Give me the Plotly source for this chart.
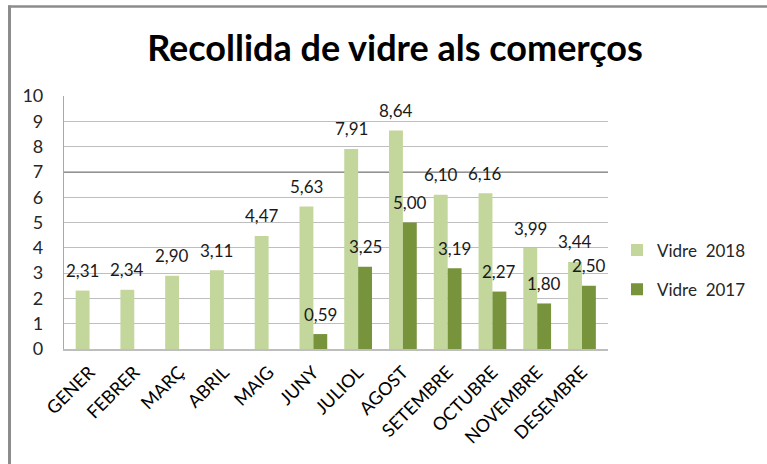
import plotly.graph_objects as go

months = ["GENER", "FEBRER", "MARÇ", "ABRIL", "MAIG", "JUNY", "JULIOL",
          "AGOST", "SETEMBRE", "OCTUBRE", "NOVEMBRE", "DESEMBRE"]
vidre_2018 = [2.31, 2.34, 2.90, 3.11, 4.47, 5.63, 7.91, 8.64, 6.10, 6.16, 3.99, 3.44]
vidre_2017 = [None, None, None, None, None, 0.59, 3.25, 5.00, 3.19, 2.27, 1.80, 2.50]
y_ticks = list(range(0, 11))


def fmt(v):
    return f"{v:.2f}".replace(".", ",")


W, H = 767, 464
# plot area in screen pixels
L, R, T, B = 64, 608, 96, 349
pw, ph = R - L, B - T
BARGAP = 0.38
bar_half = pw / len(months) * (1 - BARGAP) / 4  # half of one bar width


def px(x):
    return (x - L) / pw


def py(y):
    return (B - y) / ph


FONT = "Lato"
label_font = dict(family=FONT, size=17, color="#1A1A1A")

fig = go.Figure()
fig.add_trace(go.Bar(
    x=months, y=vidre_2018, name="Vidre  2018",
    marker=dict(color="#C3D69B", line=dict(width=0)),
    legendgroup="a",
))
fig.add_trace(go.Bar(
    x=months, y=vidre_2017, name="Vidre  2017",
    marker=dict(color="#77933C", line=dict(width=0)),
    legendgroup="b",
))

# data labels
for series, shift in ((vidre_2018, -bar_half), (vidre_2017, bar_half)):
    for m, v in zip(months, series):
        if v is None:
            continue
        fig.add_annotation(x=m, y=v, text=fmt(v), showarrow=False,
                           xshift=shift, yshift=20, yanchor="middle",
                           font=label_font)

fig.update_layout(
    width=W, height=H,
    margin=dict(l=L, r=W - R, t=T, b=H - B, pad=0, autoexpand=False),
    paper_bgcolor="white", plot_bgcolor="white",
    barmode="group", bargap=BARGAP, bargroupgap=0,
    title=dict(text="<b>Recollida de vidre als comerços</b>",
               x=395 / W, xanchor="center", y=1 - 48 / H, yanchor="middle",
               font=dict(family=FONT, size=36, color="#000000")),
    legend=dict(x=px(617), y=py(270), xanchor="left", yanchor="middle",
                font=dict(family=FONT, size=17, color="#262626"),
                tracegroupgap=14, bgcolor="rgba(0,0,0,0)"),
    showlegend=True,
)
fig.update_yaxes(range=[0, 10], tickvals=y_ticks, ticktext=[str(v) for v in y_ticks],
                 showgrid=True, gridcolor="#BEBEBE", gridwidth=1.2,
                 showline=True, linecolor="#A8A8A8", linewidth=1.2,
                 zeroline=False, ticks="", ticklabelstandoff=16, automargin=False,
                 tickfont=dict(family=FONT, size=18, color="#262626"))
fig.update_xaxes(tickangle=-45, showline=True, linecolor="#BEBEBE", linewidth=1.5,
                 ticks="", automargin=False, ticklabelstandoff=4,
                 tickfont=dict(family=FONT, size=18, color="#000000"))

# darker gridline at 7
fig.add_shape(type="line", xref="paper", yref="y", x0=0, x1=1, y0=7, y1=7,
              line=dict(color="#929292", width=2), layer="below")
# outer frame of the chart (top and left edges only are visible)
fig.add_shape(type="line", xref="paper", yref="paper",
              x0=px(8), x1=px(770), y0=py(6.5), y1=py(6.5),
              line=dict(color="#8C8C8C", width=2.5), layer="above")
fig.add_shape(type="line", xref="paper", yref="paper",
              x0=px(9.5), x1=px(9.5), y0=py(5.5), y1=py(470),
              line=dict(color="#8C8C8C", width=3), layer="above")

fig.write_html("out.html", config={"displayModeBar": False},
               post_script="document.body.style.margin='0';")
